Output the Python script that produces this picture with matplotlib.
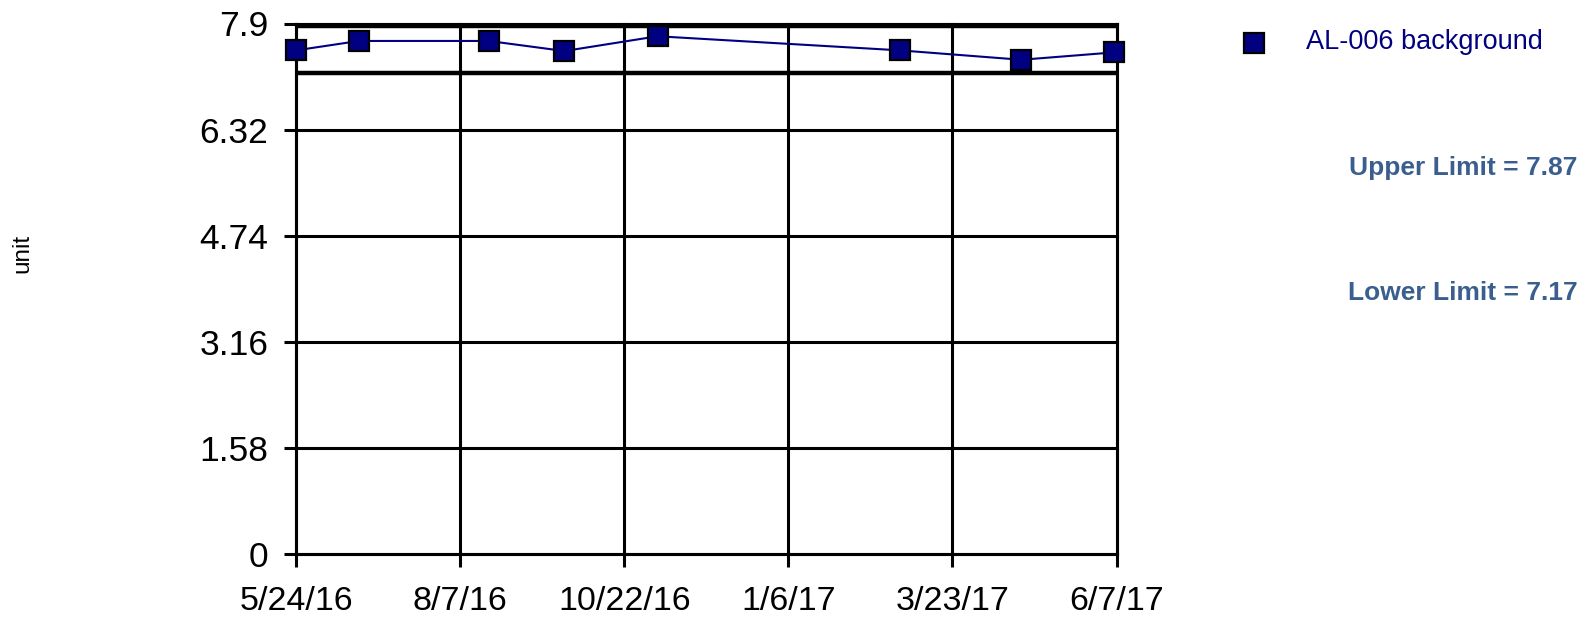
import matplotlib
matplotlib.use("Agg")
import matplotlib.pyplot as plt
import matplotlib.dates as mdates
import numpy as np
import datetime as dt

plt.rcParams['font.family'] = ['Liberation Sans', 'DejaVu Sans']

# ---- data ----
dates = ["2016-05-24", "2016-06-22", "2016-08-21", "2016-09-25",
         "2016-11-07", "2017-02-27", "2017-04-24", "2017-06-06"]
values = [7.50, 7.64, 7.64, 7.49, 7.71, 7.50, 7.36, 7.47]
series_name = "AL-006 background"
upper_limit = 7.87
lower_limit = 7.17
y_ticks = [0, 1.58, 3.16, 4.74, 6.32, 7.9]
y_tick_labels = ["0", "1.58", "3.16", "4.74", "6.32", "7.9"]
x_tick_labels = ["5/24/16", "8/7/16", "10/22/16", "1/6/17", "3/23/17", "6/7/17"]
x_start = "2016-05-24"
x_end = "2017-06-07"
y_label = "unit"

navy = "#000080"
limit_color = "#3A5F8E"

fig = plt.figure(figsize=(15.85, 6.18), dpi=100)
ax = fig.add_axes([296 / 1585, 1 - 554 / 618, (1116.5 - 296) / 1585, (554 - 23.5) / 618])

xd = [dt.datetime.strptime(d, "%Y-%m-%d") for d in dates]
xs = mdates.date2num(dt.datetime.strptime(x_start, "%Y-%m-%d"))
xe = mdates.date2num(dt.datetime.strptime(x_end, "%Y-%m-%d"))

ax.set_xlim(xs, xe)
ax.set_ylim(0, 7.9)

# grid lines
for yv in y_ticks:
    ax.axhline(yv, color="black", lw=2.2, zorder=1, clip_on=False)
xticks = np.linspace(xs, xe, len(x_tick_labels))
for xv in xticks:
    ax.axvline(xv, color="black", lw=2.2, zorder=1, clip_on=False)

# limit lines
ax.axhline(upper_limit, color="black", lw=3.2, zorder=2)
ax.axhline(lower_limit, color="black", lw=3.2, zorder=2)

ax.plot(mdates.date2num(xd), values, color=navy, lw=1.5, marker="s",
        markersize=15, markerfacecolor=navy, markeredgecolor="black",
        markeredgewidth=1.6, zorder=5, clip_on=False)

ax.set_xticks(xticks)
ax.set_xticklabels(x_tick_labels, fontsize=24.5)
ax.set_yticks(y_ticks)
ax.set_yticklabels(y_tick_labels, fontsize=25.5)
ax.tick_params(axis="both", direction="out", length=9, width=2.2, color="black")
ax.tick_params(axis="x", pad=14)
ax.tick_params(axis="y", pad=11)
for s in ax.spines.values():
    s.set_linewidth(2.2)
    s.set_color("black")

fig.text(22 / 1585, 1 - 253 / 618, y_label, rotation=90, fontsize=17.5,
         ha="center", va="center")

# legend
fig.add_artist(plt.Line2D([1254 / 1585], [1 - 43 / 618], marker="s", markersize=15,
                          markerfacecolor=navy, markeredgecolor="black",
                          markeredgewidth=1.6, linestyle="none",
                          transform=fig.transFigure))
fig.text(1306 / 1585, 1 - 42 / 618, series_name, color=navy, fontsize=19.5,
         ha="left", va="center")

fig.text(1577 / 1585, 1 - 167.5 / 618, f"Upper Limit = {upper_limit}", color=limit_color,
         fontsize=19, fontweight="bold", ha="right", va="center")
fig.text(1578 / 1585, 1 - 293 / 618, f"Lower Limit = {lower_limit}", color=limit_color,
         fontsize=19, fontweight="bold", ha="right", va="center")

fig.savefig("out.png", dpi=100)
